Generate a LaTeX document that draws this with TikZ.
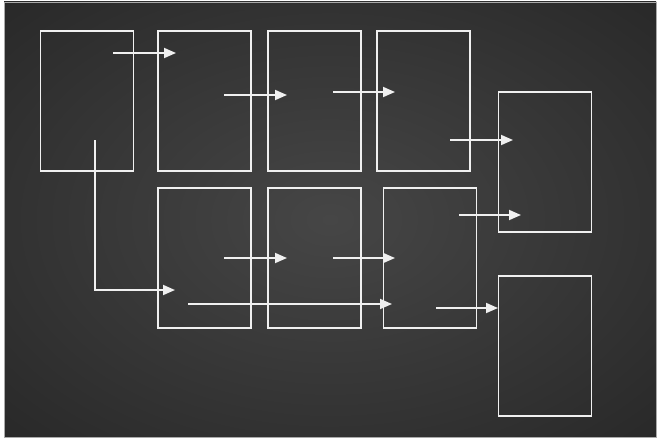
\documentclass[tikz,border=0pt]{standalone}
\usetikzlibrary{arrows.meta,calc}

\definecolor{bgin}{RGB}{70,70,70}
\definecolor{bgout}{RGB}{24,24,24}
\definecolor{frameedge}{RGB}{170,170,170}
\definecolor{linewhite}{RGB}{240,240,240}
\pgfdeclareradialshading{bgglow}{\pgfpoint{0bp}{0bp}}{color(0bp)=(bgin); color(56bp)=(bgout)}

\begin{document}
\begin{tikzpicture}[
    x=1pt, y=-1pt,
    >={Triangle[length=12pt,width=10pt]},
    stage/.style={draw=linewhite, line width=1.8pt, inner sep=0pt,
                  minimum width=93pt, minimum height=140pt},
    flow/.style={->, draw=linewhite, line width=1.8pt},
]
  \useasboundingbox (0,0) rectangle (660,441);
  % ---------------- backdrop ----------------
  \fill[white] (0,0) rectangle (660,441);
  \shade[shading=bgglow, draw=frameedge, line width=0.8pt] (4,2) rectangle (656,437);

  % ---------------- top row ----------------
  \node[stage] (src)  at (87,101)    {};
  \node[stage] (stA)  at (204.5,101) {};
  \node[stage] (stB)  at (314.5,101) {};
  \node[stage] (stC)  at (423.5,101) {};
  \node[stage] (outA) at (545,162)   {};

  % ---------------- bottom row ----------------
  \node[stage] (lowA) at (204.5,258) {};
  \node[stage] (lowB) at (314.5,258) {};
  \node[stage] (lowC) at (430,258)   {};
  \node[stage] (outB) at (545,346)   {};

  % ---------------- arrow ends ----------------
  \coordinate (srcOut)  at (113,53);   \coordinate (stAIn)  at (176,53);
  \coordinate (stAOut)  at (224,95);   \coordinate (stBIn)  at (287,95);
  \coordinate (stBOut)  at (333,92);   \coordinate (stCIn)  at (395,92);
  \coordinate (stCOut)  at (450,140);  \coordinate (outAIn) at (513,140);
  \coordinate (lowCUp)  at (459,215);  \coordinate (outAIn2) at (521,215);
  \coordinate (srcDown) at (95,140);   \coordinate (lowAIn) at (175,290);
  \coordinate (lowAOut) at (224,258);  \coordinate (lowBIn) at (287,258);
  \coordinate (lowBOut) at (333,258);  \coordinate (lowCIn) at (395,258);
  \coordinate (skipOut) at (188,304);  \coordinate (skipIn) at (392,304);
  \coordinate (lowCOut) at (436,308);  \coordinate (outBIn) at (498,308);

  % ---------------- connectors ----------------
  \draw[flow] (srcOut) -- (stAIn);
  \draw[flow] (stAOut) -- (stBIn);
  \draw[flow] (stBOut) -- (stCIn);
  \draw[flow] (stCOut) -- (outAIn);
  \draw[flow] (lowCUp) -- (outAIn2);
  \draw[flow] (srcDown) |- (lowAIn);
  \draw[flow] (lowAOut) -- (lowBIn);
  \draw[flow] (lowBOut) -- (lowCIn);
  \draw[flow] (skipOut) -- (skipIn);
  \draw[flow] (lowCOut) -- (outBIn);
\end{tikzpicture}
\end{document}
